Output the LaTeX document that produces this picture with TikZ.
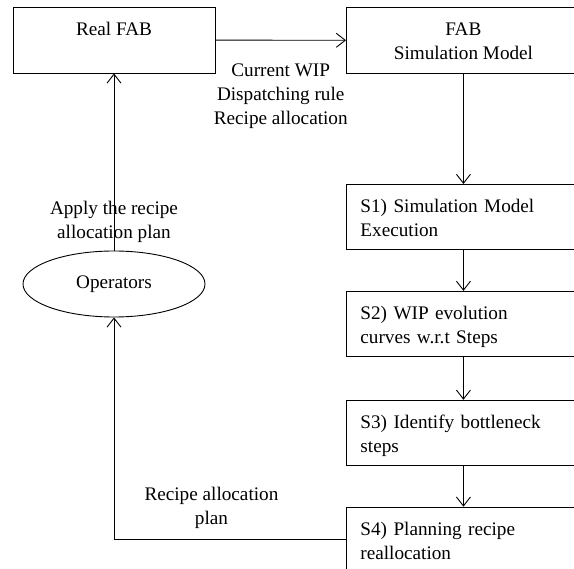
\documentclass[tikz,border=0pt]{standalone}
\usepackage{fontspec}
\setmainfont{Liberation Serif}
\usetikzlibrary{arrows.meta, positioning, shapes.geometric}
\newcommand{\topstrut}{\rule{0pt}{22pt}}

\begin{document}
\begin{tikzpicture}[
    x=1pt, y=-1pt,
    fab box/.style={rectangle, draw=black, minimum width=202pt, minimum height=66pt, inner sep=0pt, align=center},
    sim box/.style={rectangle, draw=black, minimum width=234pt, minimum height=66pt, inner sep=0pt, align=center},
    step box/.style={rectangle, draw=black, minimum width=234pt, minimum height=65pt, inner xsep=14pt, inner ysep=0pt, text width=206pt, align=left},
    op style/.style={ellipse, draw=black, minimum width=182pt, minimum height=66pt, inner sep=0pt},
    edgelabel/.style={align=center},
    every node/.style={font=\fontsize{19.2}{24}\selectfont},
    every path/.style={line width=0.9pt, black},
    arrow/.style={-{Straight Barb[length=9pt, width=14pt]}},
]
    \useasboundingbox (0,0) rectangle (574,569);

    % % Boxes
    \node[fab box] (real) at (114,40) {\topstrut Real FAB\\ \strut};
    \node[sim box, anchor=north west] (sim) at (346,7) {\topstrut FAB\\Simulation Model\strut};
    \node[op style] (op) at (114,284) {Operators};

    \node[step box, anchor=north west] (s1) at (346,184) {\topstrut S1) Simulation Model\\Execution\strut};
    \node[step box, below=41pt of s1] (s2) {\topstrut S2) WIP evolution\\curves w.r.t Steps\strut};
    \node[step box, below=43pt of s2] (s3) {\topstrut S3) Identify bottleneck\\steps\strut};
    \node[step box, below=41pt of s3] (s4) {\topstrut S4) Planning recipe\\reallocation\strut};

    % Edges with labels
    \draw[arrow] (real) -- node[edgelabel, below=20pt] {Current WIP\\Dispatching rule\\Recipe allocation} (sim);

    \draw[arrow] (sim) -- (s1);
    \draw[arrow] (s1) -- (s2);
    \draw[arrow] (s2) -- (s3);
    \draw[arrow] (s3) -- (s4);

    \draw[arrow] (s4.west) -| node[edgelabel, above=7pt, pos=0.29] {Recipe allocation\\plan} (op.south);
    \draw[arrow] (op) -- node[edgelabel, pos=0.16] {Apply the recipe\\allocation plan} (real);

\end{tikzpicture}
\end{document}
